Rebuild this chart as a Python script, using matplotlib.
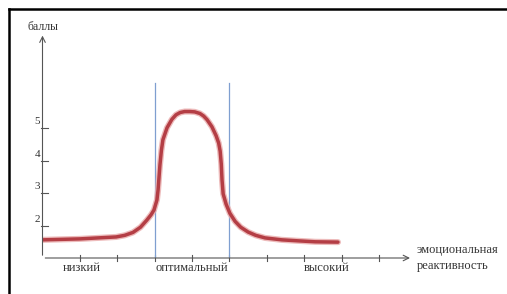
import matplotlib
matplotlib.use("Agg")
import matplotlib.pyplot as plt
from matplotlib.lines import Line2D

# data (x in category units, y in "баллы")
curve_x = [0, 1.0, 1.97, 2.2, 2.42, 2.62, 2.79, 2.9, 2.98, 3.06, 3.09, 3.11, 3.14, 3.18, 3.22,
           3.33, 3.46, 3.57, 3.68, 3.8, 3.94, 4.07, 4.21, 4.31, 4.4, 4.53, 4.64, 4.71, 4.75,
           4.78, 4.8, 4.83, 4.91, 5.01, 5.15, 5.3, 5.5, 5.7, 5.95, 6.4, 6.83, 7.29, 7.9]
curve_y = [1.56, 1.59, 1.65, 1.7, 1.79, 1.95, 2.17, 2.33, 2.48, 2.79, 3.1, 3.41, 3.87, 4.33,
           4.65, 5.02, 5.28, 5.42, 5.49, 5.52, 5.52, 5.51, 5.46, 5.38, 5.27, 5.05, 4.78, 4.55,
           4.3, 3.9, 3.41, 2.98, 2.66, 2.38, 2.13, 1.95, 1.8, 1.7, 1.62, 1.56, 1.53, 1.5, 1.49]
x_ticks = [1, 2, 3, 4, 5, 6, 7, 8, 9]
y_ticks = [2, 3, 4, 5]
zone_bounds = [3, 5]
zone_labels = ["низкий", "оптимальный", "высокий"]
zone_label_x = [1.05, 4.0, 7.6]
y_label = "баллы"
x_label = "эмоциональная\nреактивность"

FONT = "Liberation Serif"
TXT = "#333333"

fig = plt.figure(figsize=(5.07, 2.94), dpi=100)
# axes: origin at px (42.5, 258); 1 x-unit = 37.4 px, 1 y-unit = 32.4 px
W, H = 507, 294
x0, y0 = 42.5, 258
xmax_px, ytop_px = 500, 20
ax = fig.add_axes([x0 / W, (H - y0) / H, (xmax_px - x0) / W, (y0 - ytop_px) / H])
ax.set_xlim(0, (xmax_px - x0) / 37.4)
ax.set_ylim(1, 1 + (y0 - ytop_px) / 32.4)
ax.axis("off")

# frame (only left and top visible)
fig.add_artist(Line2D([9 / W, 9 / W], [0, 1 - 9 / H], color="black", lw=1.8,
                      transform=fig.transFigure))
fig.add_artist(Line2D([9 / W, 1], [1 - 9 / H, 1 - 9 / H], color="black", lw=1.8,
                      transform=fig.transFigure))

axis_col = "#555555"
# axes with arrows
ax.annotate("", xy=(9.9, 1), xytext=(0, 1),
            arrowprops=dict(arrowstyle="->", color=axis_col, lw=0.8, mutation_scale=10),
            annotation_clip=False)
ax.annotate("", xy=(0, 7.95), xytext=(0, 1),
            arrowprops=dict(arrowstyle="->", color=axis_col, lw=0.8, mutation_scale=10),
            annotation_clip=False)

# x ticks (cross axis)
for t in x_ticks:
    ax.plot([t, t], [1 - 0.09, 1 + 0.09], color=axis_col, lw=0.8, clip_on=False)
# y ticks
for t in y_ticks:
    ax.plot([-0.05, 0.15], [t, t], color=axis_col, lw=0.8, clip_on=False)
    ax.text(-0.06, t + 0.2, str(t), ha="right", va="center", fontsize=8,
            family=FONT, color=TXT)

# zone boundary lines
for b in zone_bounds:
    ax.plot([b, b], [1, 6.4], color="#7f9fd0", lw=0.9)

# curve with soft glow
ax.plot(curve_x, curve_y, color="#e9aaaa", lw=4.4, solid_capstyle="round",
        solid_joinstyle="round", alpha=0.8)
ax.plot(curve_x, curve_y, color="#b43e45", lw=2.5, solid_capstyle="round",
        solid_joinstyle="round")

# labels
for lx, lab in zip(zone_label_x, zone_labels):
    ax.text(lx, 1 - 0.3, lab, ha="center", va="center", fontsize=9,
            family=FONT, color=TXT)
ax.text(0, 7.95, y_label, ha="center", va="bottom", fontsize=8.5, family=FONT, color=TXT)
ax.text(10.0, 1.0, x_label, ha="left", va="center", fontsize=9, family=FONT, color=TXT,
        linespacing=1.4)

fig.savefig("out.png", dpi=100)
